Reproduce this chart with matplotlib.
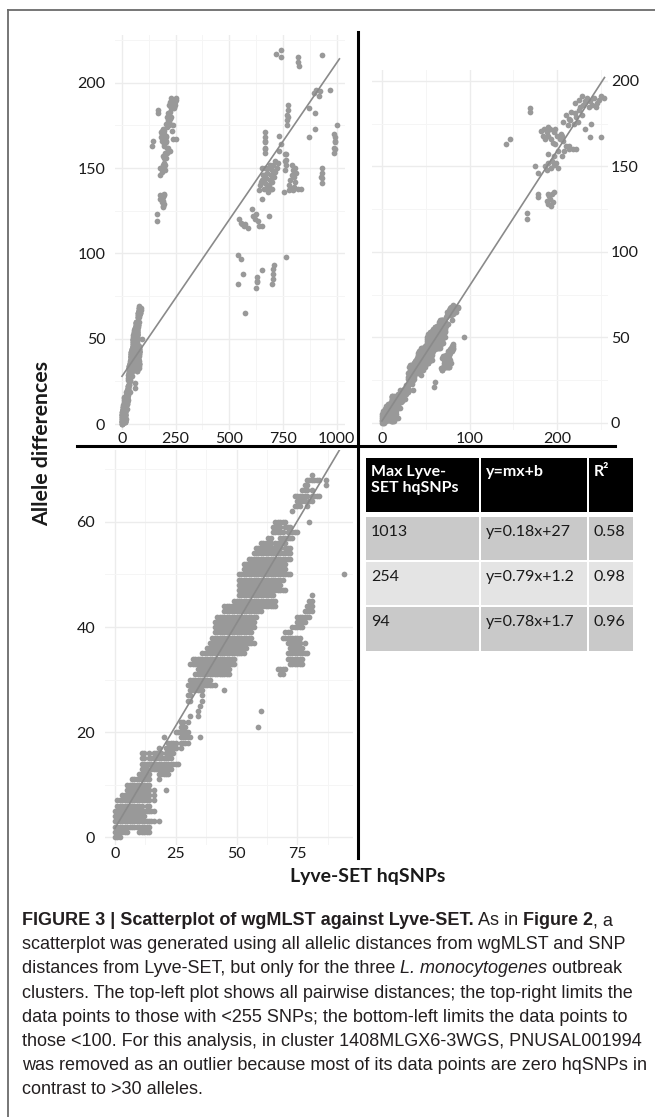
import matplotlib
matplotlib.use("Agg")
import matplotlib.pyplot as plt
from matplotlib.patches import Rectangle

# Lyve-SET hqSNPs (x) against wgMLST allele differences (y).
# Dense part (< 100 SNPs): for each allele count, runs of consecutive SNP values.
low_rows = {
    0: [(0, 2)], 1: [(0, 5), (10, 14)], 2: [(0, 7), (8, 14)], 3: [(0, 16), (18, 18)],
    4: [(0, 12)], 5: [(0, 11), (12, 16)], 6: [(1, 11), (13, 14)],
    7: [(1, 9), (10, 14), (16, 16)], 8: [(3, 14), (16, 16)], 9: [(5, 14), (16, 16), (21, 21)],
    10: [(5, 14)], 11: [(7, 14), (18, 18)], 12: [(10, 14), (18, 22)],
    13: [(11, 13), (15, 16), (17, 23)], 14: [(11, 25), (26, 26)], 15: [(11, 12), (14, 23)],
    16: [(11, 12), (14, 14), (16, 19), (21, 24)], 17: [(18, 18), (21, 25), (27, 27)],
    18: [(22, 25), (27, 30)], 19: [(20, 20), (27, 30), (31, 31), (35, 35)],
    20: [(25, 30)], 21: [(27, 29), (59, 59)], 22: [(27, 28), (30, 30)],
    23: [(31, 31), (34, 34)], 24: [(34, 34), (60, 60)], 25: [(35, 35)],
    26: [(30, 31), (36, 36)], 27: [(30, 31), (36, 36)], 28: [(31, 36), (45, 45)],
    29: [(30, 41)], 30: [(31, 39)], 31: [(33, 44), (45, 47), (68, 69)],
    32: [(34, 47), (67, 70)], 33: [(31, 49), (72, 77)], 34: [(32, 49), (71, 77)],
    35: [(36, 53), (71, 79)], 36: [(38, 54), (72, 77)], 37: [(39, 57), (71, 76), (78, 78)],
    38: [(40, 56), (69, 76)], 39: [(41, 56), (70, 72)], 40: [(41, 57), (73, 77)],
    41: [(41, 57), (75, 78)], 42: [(42, 58), (75, 80)], 43: [(45, 60), (78, 81)],
    44: [(45, 66), (79, 81)], 45: [(49, 66), (80, 81)], 46: [(51, 65), (81, 81)],
    47: [(51, 70)], 48: [(51, 68)], 49: [(51, 69)], 50: [(51, 72), (94, 94)],
    51: [(53, 70)], 52: [(53, 70)], 53: [(55, 72)], 54: [(57, 72)],
    55: [(58, 68), (70, 72)], 56: [(60, 64), (66, 70)], 57: [(63, 64), (68, 73)],
    58: [(65, 69), (71, 74), (75, 75)], 59: [(65, 68), (70, 72)], 60: [(66, 70), (80, 80)],
    62: [(73, 73)], 63: [(74, 76), (79, 79)], 64: [(75, 78), (80, 81)],
    65: [(74, 79), (81, 84)], 66: [(77, 79), (81, 81)], 67: [(78, 79), (87, 87)],
    68: [(79, 84), (87, 87)], 69: [(81, 81)],
}

# 100 - 254 SNPs
mid_snp = [141, 146, 169, 169, 165, 165, 175, 178, 178, 178,
           188, 190, 191, 192, 194, 196, 193, 195, 189,
           186, 188, 190, 193, 196, 199, 201, 194,
           190, 196, 205, 208, 201,
           182, 185, 188, 190, 193, 196, 198, 200, 203, 186, 192, 195, 184, 189,
           197, 204, 207, 210, 213, 206,
           214, 218, 222,
           207, 210, 213, 216, 219, 222, 225, 212, 220, 228, 215, 224,
           220, 225, 230, 234, 238, 242, 246, 250, 236, 228, 244, 232, 240, 248, 226, 253,
           237, 250, 239, 232]
mid_allele = [163, 166, 182, 184, 119, 123, 150, 146, 132, 134,
              130, 128, 133, 131, 134, 135, 127, 129, 134,
              150, 148, 152, 149, 151, 152, 149, 153,
              157, 156, 156, 159, 159,
              171, 172, 170, 168, 166, 170, 172, 168, 166, 166, 172, 164, 168, 173,
              163, 169, 165, 162, 162, 168,
              160, 160, 160,
              176, 180, 178, 182, 175, 179, 183, 174, 181, 180, 177, 176,
              187, 189, 186, 190, 188, 190, 187, 191, 185, 191, 185, 188, 186, 189, 185, 190,
              167, 167, 175, 172]

# > 254 SNPs
far_snp = [665, 665, 665, 666, 666, 668, 668,
           770, 770, 771, 772, 772, 774,
           760, 762, 763, 764, 758,
           640, 645, 650, 655, 660, 665, 670, 675, 680, 685, 690, 695, 700, 705, 710, 715,
           680, 700, 690, 712, 720, 725, 650, 700, 705, 675, 668, 660,
           780, 785, 790, 795, 800, 805, 808, 800, 812, 790, 785,
           778, 795, 820,
           930, 930, 931, 931, 928,
           990, 990, 991, 992, 989, 993, 994, 1001,
           870, 901, 901, 870, 893, 905, 917, 924, 971, 932,
           716, 739, 741, 818, 822, 825,
           546, 553, 560, 568, 575, 585,
           608, 612, 618, 625, 632, 640, 654, 685,
           539, 554, 539, 565, 625, 627, 629, 631, 654, 700, 702, 703, 704, 706, 762, 573,
           654, 647, 693, 755, 832, 731, 731, 760, 739]
far_allele = [159, 162, 165, 168, 171, 161, 166,
              175, 178, 181, 184, 187, 180,
              149, 152, 155, 158, 154,
              137, 140, 143, 146, 138, 141, 144, 147, 150, 140, 143, 146, 149, 152, 145, 148,
              136, 138, 152, 154, 150, 153, 150, 142, 145, 139, 150, 146,
              140, 143, 146, 149, 145, 142, 150, 139, 147, 152, 138,
              137, 137, 138,
              141, 144, 147, 150, 145,
              159, 162, 165, 168, 170, 161, 166, 175,
              168, 173, 182, 185, 194, 196, 192, 195, 196, 216,
              217, 219, 215, 215, 212, 210,
              120, 118, 117, 116, 117, 115,
              126, 122, 120, 123, 119, 116, 116, 122,
              99, 97, 82, 88, 80, 83, 86, 84, 90, 82, 85, 88, 91, 93, 98, 65,
              132, 142, 138, 136, 138, 169, 160, 158, 164]

# fitted lines (start/end) and the table
fit_x = {"all": [0, 1013], "254": [0, 254], "94": [0, 94]}
fit_y = {"all": [28, 214], "254": [1.2, 202], "94": [1.7, 75]}

table_header = ["Max Lyve-\nSET hqSNPs", "y=mx+b", "R²"]
table_max = ["1013", "254", "94"]
table_eq = ["y=0.18x+27", "y=0.79x+1.2", "y=0.78x+1.7"]
table_r2 = ["0.58", "0.98", "0.96"]

caption = [
    [("FIGURE 3 | Scatterplot of wgMLST against Lyve-SET.", "bold"), (" As in ", "normal"),
     ("Figure 2", "bold"), (", a", "normal")],
    [("scatterplot was generated using all allelic distances from wgMLST and SNP", "normal")],
    [("distances from Lyve-SET, but only for the three ", "normal"), ("L. monocytogenes", "italic"),
     (" outbreak", "normal")],
    [("clusters. The top-left plot shows all pairwise distances; the top-right limits the", "normal")],
    [("data points to those with <255 SNPs; the bottom-left limits the data points to", "normal")],
    [("those <100. For this analysis, in cluster 1408MLGX6-3WGS, PNUSAL001994", "normal")],
    [("was removed as an outlier because most of its data points are zero hqSNPs in", "normal")],
    [("contrast to >30 alleles.", "normal")],
]

# expand the runs into points
snp, allele = [], []
for a, runs in low_rows.items():
    for x0, x1 in runs:
        for s in range(x0, x1 + 1):
            snp.append(s)
            allele.append(a)
snp += mid_snp + far_snp
allele += mid_allele + far_allele

W, H = 655, 1117
plt.rcParams["font.family"] = ["Lato", "DejaVu Sans"]
fig = plt.figure(figsize=(W / 100, H / 100), dpi=100)

PT_COL = "#999999"
LINE_COL = "#8a8a8a"
TXT = "#1a1a1a"


def px_axes(x0, y0, x1, y1):
    return fig.add_axes([x0 / W, 1 - y1 / H, (x1 - x0) / W, (y1 - y0) / H])


def panel(ax, max_snp, key, xlim, ylim, xmaj, xmin, ymaj, ymin, right=False):
    xs = [s for s, a in zip(snp, allele) if s <= max_snp]
    ys = [a for s, a in zip(snp, allele) if s <= max_snp]
    ax.scatter(xs, ys, s=17, color=PT_COL, linewidths=0, zorder=2)
    ax.plot(fit_x[key], fit_y[key], color=LINE_COL, lw=1.2, zorder=3)
    ax.set_xlim(xlim)
    ax.set_ylim(ylim)
    ax.set_xticks(xmaj)
    ax.set_xticks(xmin, minor=True)
    ax.set_yticks(ymaj)
    ax.set_yticks(ymin, minor=True)
    ax.grid(which="major", color="#ececec", lw=1.0)
    ax.grid(which="minor", color="#f5f5f5", lw=0.7)
    ax.set_axisbelow(True)
    for sp in ax.spines.values():
        sp.set_visible(False)
    ax.patch.set_alpha(0)
    ax.tick_params(which="both", length=0, labelsize=11.5, labelcolor=TXT)
    ax.tick_params(axis="x", pad=1.5)
    if right:
        ax.yaxis.tick_right()
        ax.tick_params(axis="y", pad=2)
    else:
        ax.tick_params(axis="y", pad=7)


ax1 = px_axes(115, 35, 345, 430)
panel(ax1, 2000, "all", (-32.6, 1039), (-3.5, 228),
      [0, 250, 500, 750, 1000], [125, 375, 625, 875],
      [0, 50, 100, 150, 200], [25, 75, 125, 175, 225])

ax2 = px_axes(372, 70, 608, 430)
panel(ax2, 254, "254", (-11.4, 258), (-4.1, 206.4),
      [0, 100, 200], [50, 150, 250],
      [0, 50, 100, 150, 200], [25, 75, 125, 175], right=True)

ax3 = px_axes(105, 450, 353, 845)
panel(ax3, 94, "94", (-4.1, 97.9), (-1.5, 73.7),
      [0, 25, 50, 75], [12.5, 37.5, 62.5, 87.5],
      [0, 20, 40, 60], [10, 30, 50, 70])

# overlay in pixel coordinates for frame, dividers, table and caption
ov = fig.add_axes([0, 0, 1, 1])
ov.set_xlim(0, W)
ov.set_ylim(H, 0)
ov.axis("off")
ov.patch.set_alpha(0)

ov.plot([8, W], [10, 10], color="#6b6b6b", lw=1.3)
ov.plot([8, 8], [10, H], color="#6b6b6b", lw=1.3)
ov.plot([358, 358], [32, 858], color="black", lw=2.2)
ov.plot([77, 615], [446, 446], color="black", lw=2.2)

ov.text(42, 444, "Allele differences", rotation=90, ha="center", va="center",
        fontsize=15.3, fontweight="bold", color=TXT)
ov.text(368, 882, "Lyve-SET hqSNPs", ha="center", va="baseline",
        fontsize=14, fontweight="bold", color=TXT)

# table
col_x = [(366, 479), (481, 587), (589, 633)]
row_y = [(458, 512), (517, 560), (562, 605), (607, 651)]
row_fill = ["black", "#c9c9c9", "#e4e4e4", "#c9c9c9"]
rows = [table_header] + [[m, e, r] for m, e, r in zip(table_max, table_eq, table_r2)]
for i, (y0, y1) in enumerate(row_y):
    for j, (x0, x1) in enumerate(col_x):
        ov.add_patch(Rectangle((x0, y0), x1 - x0, y1 - y0, facecolor=row_fill[i],
                               edgecolor="none"))
        txt = rows[i][j]
        if i == 0:
            ov.text(x0 + 5, y0 + 7, txt, ha="left", va="top", fontsize=11.5,
                    fontweight="bold", color="white", linespacing=1.15)
        else:
            ov.text(x0 + 5, y0 + 8, txt, ha="left", va="top", fontsize=11.5, color=TXT)

# caption, segment by segment
cap_font = ["Liberation Sans", "DejaVu Sans"]
renderer = fig.canvas.get_renderer()
for k, line in enumerate(caption):
    x = 22
    y = 925 + k * 24.2
    for seg, style in line:
        t = ov.text(x, y, seg, ha="left", va="baseline", fontsize=12.95, color="#231f20",
                    family=cap_font,
                    fontweight="bold" if style == "bold" else "normal",
                    fontstyle="italic" if style == "italic" else "normal")
        x += t.get_window_extent(renderer).width

fig.savefig("out.png", dpi=100)
